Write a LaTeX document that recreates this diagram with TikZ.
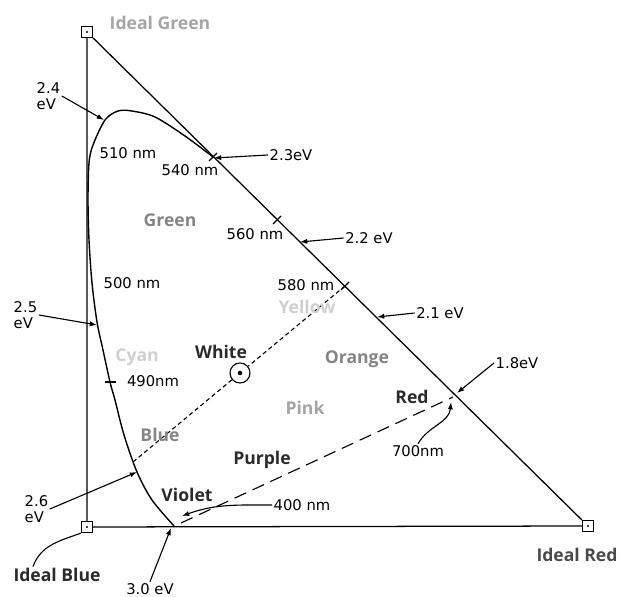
\documentclass[tikz,border=0pt]{standalone}
\usepackage{fontspec}
\setmainfont{Open Sans}
\newfontfamily\letterfont{DejaVu Sans}
\usepackage{xcolor}
\usetikzlibrary{positioning, arrows.meta}
\definecolor{namegray}{HTML}{858585}
\definecolor{lightgray}{HTML}{A5A5A5}
\definecolor{palegray}{HTML}{CFCFCF}
\definecolor{inkdark}{HTML}{2A2A2A}

\begin{document}
\begin{tikzpicture}[
    x=0.025cm, y=-0.025cm,
    corner/.style={rectangle, draw, thick, fill=white, minimum size=0.28cm, inner sep=0pt},
    hue/.style={font=\bfseries\fontsize{12.5}{13}\selectfont, text=namegray, inner sep=1pt},
    tag/.style={font=\letterfont\fontsize{10.5}{11}\selectfont, align=left, inner sep=1pt},
    arr/.style={-{Latex[length=1.8mm, width=1.3mm]}, thick},
    edge/.style={line width=0.9pt},
    whiteline/.style={thick, dash pattern=on 3pt off 2.2pt},
    purpleline/.style={thick, dash pattern=on 9pt off 5pt}
]
    \useasboundingbox (0,0) rectangle (619,597);

    % Ideal primaries
    \node[corner] (cgreen) at (87,32) {};
    \node[corner] (cblue) at (87,527) {};
    \node[corner] (cred) at (588,526) {};
    \foreach \c in {cgreen, cblue, cred} \fill (\c) circle (0.8pt);
    \draw[edge] (cgreen) -- (cblue) -- (cred) -- (cgreen);

    % Spectral locus
    \draw[line width=1pt] plot[smooth] coordinates {(174,526) (152,500) (137,472) (124,435)
        (115,400) (110,382) (103,350) (97,322) (92,283) (89,240) (88,200) (89,163)
        (93,145) (105,120) (118,111) (132,111) (155,117) (185,136) (213,157)};

    % Points on the locus
    \coordinate (p540) at (213,157);
    \coordinate (p560) at (277,220);
    \coordinate (p580) at (345,286);
    \coordinate (p700) at (453,397);
    \coordinate (p400) at (181,523);
    \coordinate (p490) at (110,382);
    \coordinate (pblue) at (133,462);
    \coordinate (e24) at (104,120);
    \coordinate (e25) at (97,325);
    \coordinate (e26) at (137,472);
    \coordinate (e23) at (214,158);
    \coordinate (e22) at (300,242);
    \coordinate (e21) at (377,317);
    \coordinate (e18) at (457,393);
    \coordinate (e30) at (171,528);
    \coordinate (e400) at (182,516);
    \coordinate (e700) at (451,402);

    % Ticks
    \foreach \p in {p540, p560, p580} \draw[thick] (\p) ++(-4,4) -- ++(8,-8);
    \draw[thick] (p490) ++(-5,0) -- ++(11,0);

    % White point and mixing lines
    \node[circle, draw, thick, minimum size=0.5cm, inner sep=0pt] (white) at (240,373) {};
    \fill (white) circle (1.6pt);
    \draw[whiteline] (p580) -- (white);
    \draw[whiteline] (white) -- (pblue);
    \draw[purpleline] (p400) -- (p700);

    % Colour names
    \node[hue, text=lightgray] (nidealgreen) at (160,23) {Ideal Green};
    \node[hue] (ngreen) at (170,220) {Green};
    \node[hue, text=palegray] (ncyan) at (137,357) {Cyan};
    \node[hue, text=palegray] (nyellow) at (307,307) {Yellow};
    \node[hue, text=inkdark] (nwhite) at (221,352) {White};
    \node[hue] (norange) at (357,359) {Orange};
    \node[hue, text=lightgray] (npink) at (305,408) {Pink};
    \node[hue] (nblue) at (160,435) {Blue};
    \node[hue, text=inkdark] (npurple) at (262,460) {Purple};
    \node[hue, text=inkdark] (nviolet) at (187,495) {Violet};
    \node[hue, text=inkdark] (nred) at (412,397) {Red};
    \node[hue, text=inkdark] (nidealblue) at (57,575) {Ideal Blue};
    \node[hue, text=inkdark!85] (nidealred) at (577,555) {Ideal Red};

    % Wavelength labels
    \node[tag] (l510) at (128,153) {510 nm};
    \node[tag] (l540) at (190,170) {540 nm};
    \node[tag] (l560) at (255,234) {560 nm};
    \node[tag] (l580) at (306,285) {580 nm};
    \node[tag] (l500) at (132,283) {500 nm};
    \node[tag] (l490) at (153,381) {490nm};
    \node[tag] (l400) at (302,505) {400 nm};
    \node[tag] (l700) at (418,451) {700nm};

    % Energy labels
    \node[tag, anchor=west] (l24) at (35,96) {2.4\\eV};
    \node[tag, anchor=west] (l25) at (12,315) {2.5\\eV};
    \node[tag, anchor=west] (l26) at (23,509) {2.6\\eV};
    \node[tag] (l23) at (291,155) {2.3eV};
    \node[tag] (l22) at (369,238) {2.2 eV};
    \node[tag] (l21) at (440,313) {2.1 eV};
    \node[tag] (l18) at (517,363) {1.8eV};
    \node[tag] (l30) at (150,589) {3.0 eV};

    % Pointers
    \draw[arr] (l24.east) -- (e24);
    \draw[arr] (l25.east) -- (e25);
    \draw[arr] (l26.east) -- (e26);
    \draw[arr] (l23.west) -- (e23);
    \draw[arr] (l22.west) -- (e22);
    \draw[arr] (l21.west) -- (e21);
    \draw[arr] (l18.west) -- (e18);
    \draw[arr] (l30.north) -- (e30);
    \draw[arr] (l400.west) to[out=180, in=20] (e400);
    \draw[arr] (l700.north) to[out=60, in=-95] (e700);
    \draw[thick] ([xshift=-0.6cm]nidealblue.north) to[out=70, in=200] (cblue.south west);
\end{tikzpicture}
\end{document}
